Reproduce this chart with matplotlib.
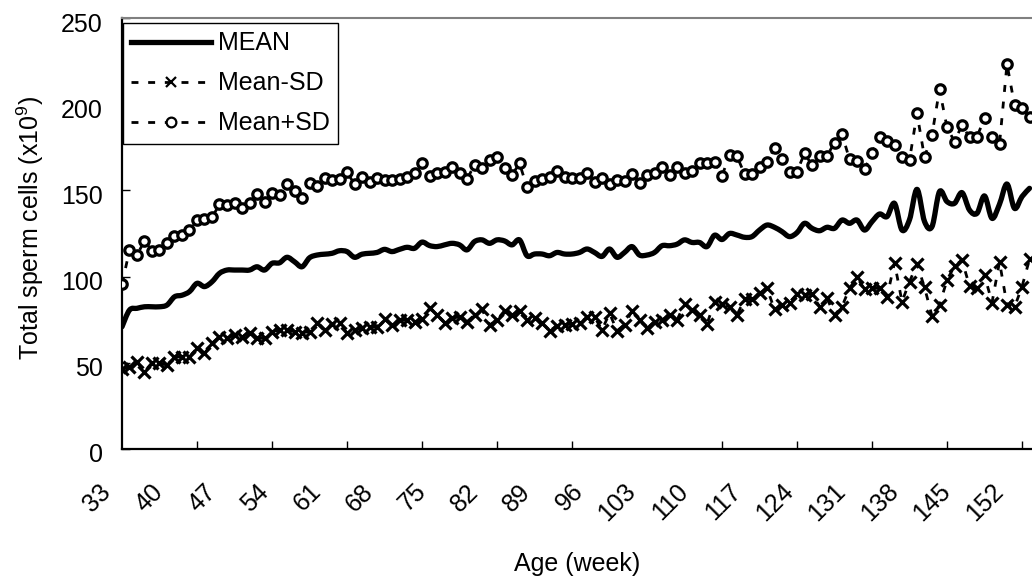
import matplotlib
matplotlib.use("Agg")
import matplotlib.pyplot as plt
import matplotlib.transforms as mtransforms
from matplotlib.ticker import FixedLocator
from matplotlib.path import Path
from matplotlib.patches import PathPatch

plt.rcParams['font.family'] = ['Liberation Sans', 'DejaVu Sans']
plt.rcParams['mathtext.fontset'] = 'custom'
plt.rcParams['mathtext.rm'] = 'Liberation Sans'
plt.rcParams['mathtext.it'] = 'Liberation Sans'

# age in weeks, one point per week
weeks = list(range(33, 155))

mean = [70.9, 80.6, 81.6, 82.5, 82.5, 82.5, 83.5, 88.3, 89.2, 91.3,
        96.1, 94.2, 97.0, 101.9, 103.8, 103.8, 103.8, 103.8, 105.7, 103.8,
        107.7, 108.0, 111.2, 108.6, 105.7, 110.9, 112.5, 113.0, 113.5, 115.0,
        114.5, 111.2, 113.0, 113.5, 114.0, 115.8, 114.5, 115.8, 117.0, 116.4,
        120.0, 118.0, 117.4, 118.4, 119.3, 118.4, 115.5, 120.3, 121.3, 119.3,
        121.3, 120.7, 118.4, 121.3, 112.1, 113.1, 113.1, 112.1, 114.0, 113.1,
        113.1, 114.0, 116.0, 114.0, 111.7, 116.0, 111.2, 114.0, 117.4, 112.5,
        112.5, 114.0, 117.9, 117.9, 118.8, 121.3, 119.8, 119.8, 117.4, 124.0,
        121.5, 125.0, 124.1, 122.8, 123.2, 127.0, 129.9, 128.6, 126.1, 123.2,
        125.5, 130.9, 128.0, 126.6, 128.6, 128.0, 132.8, 130.9, 132.8, 127.0,
        131.9, 136.3, 134.8, 142.5, 127.0, 133.0, 150.6, 132.0, 129.0, 149.3,
        143.5, 142.5, 148.7, 138.6, 136.7, 146.8, 133.8, 142.0, 153.7, 139.6,
        146.4, 151.2]

mean_minus_sd = [46.4, 47.4, 50.3, 44.9, 50.1, 49.7, 48.7, 53.6, 53.2, 53.6,
                 58.4, 55.5, 61.3, 65.2, 64.2, 66.1, 65.2, 67.5, 64.2, 64.2,
                 68.0, 69.0, 69.0, 68.0, 67.5, 68.0, 73.3, 69.0, 72.5, 72.9,
                 67.1, 69.0, 70.0, 70.9, 70.9, 75.2, 71.9, 74.8, 74.8, 73.8,
                 75.3, 81.6, 77.7, 73.3, 75.8, 76.7, 73.8, 77.7, 81.0, 71.9,
                 74.8, 80.2, 77.7, 80.2, 74.8, 75.8, 72.9, 68.6, 71.3, 71.9,
                 72.5, 72.9, 76.4, 76.7, 69.0, 78.8, 68.6, 71.9, 80.2, 74.8,
                 70.0, 73.8, 74.8, 77.7, 74.8, 84.1, 80.6, 77.7, 72.5, 85.4,
                 84.3, 82.6, 77.7, 86.8, 86.8, 90.3, 93.2, 81.0, 83.5, 84.9,
                 89.9, 89.3, 89.9, 82.6, 87.4, 77.7, 82.6, 93.2, 99.6, 92.6,
                 93.2, 93.2, 88.0, 108.1, 85.4, 97.0, 107.3, 93.8, 77.1, 83.5,
                 98.0, 106.1, 109.6, 94.5, 93.2, 100.9, 84.9, 108.6, 83.5, 82.2,
                 94.2, 110.0]

mean_plus_sd = [95.5, 115.4, 112.5, 120.8, 115.0, 115.4, 119.7, 123.5, 124.4, 127.0,
                132.8, 133.6, 134.4, 141.9, 141.4, 142.9, 139.6, 142.5, 147.7, 143.5,
                148.3, 147.4, 153.5, 149.8, 145.4, 154.1, 152.7, 157.0, 156.0, 156.4,
                160.7, 153.5, 157.6, 155.0, 157.0, 156.0, 156.0, 156.4, 158.0, 159.9,
                165.7, 158.4, 160.3, 160.9, 163.8, 160.3, 156.6, 164.7, 163.2, 167.6,
                169.2, 162.8, 158.9, 165.7, 151.8, 155.6, 156.4, 157.9, 161.4, 157.6,
                157.0, 157.0, 159.9, 155.0, 157.0, 153.7, 156.0, 155.6, 159.5, 154.5,
                158.9, 160.3, 163.8, 158.9, 163.8, 160.3, 161.4, 166.1, 166.1, 166.7,
                158.5, 170.3, 169.8, 159.5, 159.5, 163.8, 166.7, 174.4, 168.0, 160.9,
                160.9, 171.5, 164.7, 170.0, 170.0, 177.7, 182.7, 168.0, 167.2, 162.2,
                171.9, 180.8, 178.8, 176.3, 169.6, 167.6, 194.7, 169.2, 182.1, 208.6,
                186.6, 178.3, 187.9, 180.8, 181.2, 191.8, 180.8, 176.9, 223.3, 199.5,
                197.6, 192.4]

label_weeks = [33, 40, 47, 54, 61, 68, 75, 82, 89, 96, 103, 110, 117, 124, 131, 138, 145, 152]
mark_weeks = [33, 43, 53, 63, 73, 83, 93, 103, 113, 123, 133, 143, 153]
y_ticks = [0, 50, 100, 150, 200, 250]


def smooth_path(xs, ys):
    # Excel-style smoothed line: cubic bezier through every point
    n = len(xs)
    verts = [(xs[0], ys[0])]
    codes = [Path.MOVETO]
    for i in range(n - 1):
        x0, y0 = xs[max(i - 1, 0)], ys[max(i - 1, 0)]
        x1, y1 = xs[i], ys[i]
        x2, y2 = xs[i + 1], ys[i + 1]
        x3, y3 = xs[min(i + 2, n - 1)], ys[min(i + 2, n - 1)]
        verts += [(x1 + (x2 - x0) / 6, y1 + (y2 - y0) / 6),
                  (x2 - (x3 - x1) / 6, y2 - (y3 - y1) / 6),
                  (x2, y2)]
        codes += [Path.CURVE4] * 3
    return Path(verts, codes)


fig = plt.figure(figsize=(10.32, 5.8), dpi=100)
ax = fig.add_axes([122/1032, 131/580, 910/1032, 431/580])

ax.plot([], [], color='black', lw=3.8, label='MEAN')
ax.add_patch(PathPatch(smooth_path(weeks, mean), fill=False, edgecolor='black',
                       lw=3.8, joinstyle='round', capstyle='round', zorder=3))
ax.plot(weeks, mean_minus_sd, color='black', lw=2.0, dashes=(2.5, 3.5),
        marker='x', ms=8.5, mew=2.3, label='Mean-SD', zorder=3)
ax.plot(weeks, mean_plus_sd, color='black', lw=2.0, dashes=(2.5, 3.5),
        marker='o', ms=6.8, mew=2.3, mfc='white', label='Mean+SD', zorder=3)

ax.set_xlim(33, 33 + 910/7.5)
ax.set_ylim(0, 250)

ax.set_yticks(y_ticks)
ax.tick_params(axis='y', direction='in', length=6, width=1, pad=14, labelsize=18)

ax.xaxis.set_major_locator(FixedLocator(label_weeks))
ax.set_xticklabels([str(w) for w in label_weeks], rotation=45, ha='right',
                   va='center', rotation_mode='anchor')
ax.xaxis.set_minor_locator(FixedLocator(mark_weeks))
ax.tick_params(axis='x', which='major', length=0, pad=28, labelsize=18)
ax.tick_params(axis='x', which='minor', direction='in', length=6, width=1)

shift_x = mtransforms.ScaledTranslation(-15/100, 0, fig.dpi_scale_trans)
for lab in ax.get_xticklabels():
    lab.set_transform(lab.get_transform() + shift_x)
shift_y = mtransforms.ScaledTranslation(0, -4/100, fig.dpi_scale_trans)
for lab in ax.get_yticklabels():
    lab.set_transform(lab.get_transform() + shift_y)

ax.spines['right'].set_visible(False)
ax.spines['top'].set_color('#808080')
ax.spines['top'].set_linewidth(1.5)
ax.spines['left'].set_linewidth(1.6)
ax.spines['bottom'].set_linewidth(1.6)

fig.text(30/1032, 1 - 228/580, 'Total sperm cells (x10$^{9}$)', rotation=90,
         ha='center', va='center', fontsize=18)
fig.text(577/1032, 1 - 564/580, 'Age (week)', ha='center', va='center', fontsize=18)

leg = ax.legend(loc='upper left', bbox_to_anchor=(122.7/1032, 1 - 22.7/580),
                bbox_transform=fig.transFigure, borderaxespad=0, fontsize=18,
                handlelength=3.2, handletextpad=0.25, borderpad=0.35,
                labelspacing=0.64, numpoints=1, fancybox=False, framealpha=1)
leg.get_frame().set_edgecolor('black')
leg.get_frame().set_linewidth(1.0)
for h in leg.get_lines()[1:]:
    h.set_markersize(7)
    h.set_markeredgewidth(1.6)

fig.savefig('out.png', dpi=100)
